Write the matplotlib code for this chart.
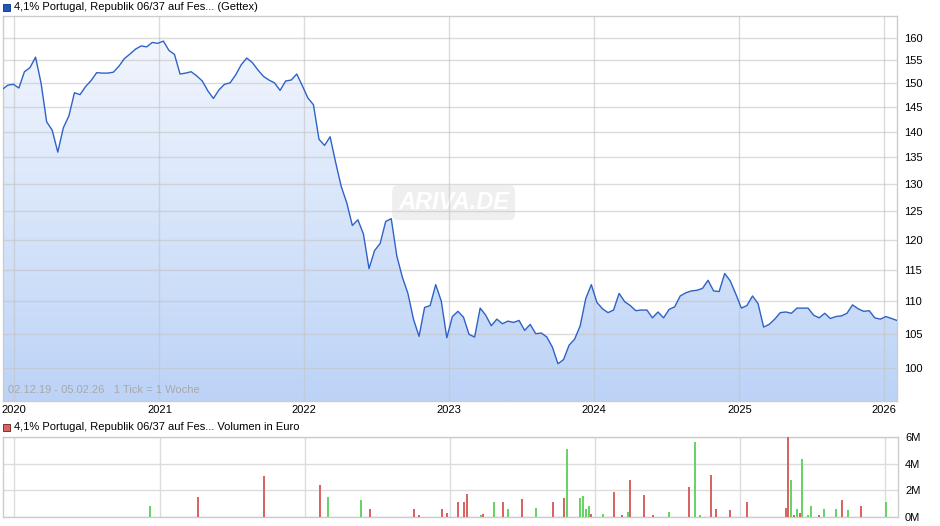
import numpy as np
import pandas as pd
import matplotlib
matplotlib.use('Agg')
import matplotlib.pyplot as plt
import matplotlib.dates as mdates
from matplotlib.colors import LinearSegmentedColormap
from matplotlib.patches import Polygon, Rectangle
from matplotlib.ticker import FixedLocator, FuncFormatter, NullLocator

plt.rcParams['font.family'] = ['Liberation Sans', 'DejaVu Sans']

# price, one reading every two weeks
price_dates = pd.date_range('2019-12-02', periods=162, freq='14D')
price = [148.7, 149.6, 149.8, 149.0, 152.5, 153.4, 155.7, 150.0, 142.0, 140.3,
         136.0, 140.8, 143.2, 148.0, 147.6, 149.3, 150.6, 152.3, 152.2, 152.2,
         152.4, 153.7, 155.4, 156.4, 157.5, 158.2, 158.0, 159.0, 158.8, 159.3,
         157.2, 156.3, 152.0, 152.2, 152.5, 151.6, 150.5, 148.4, 146.8, 148.6,
         149.8, 150.1, 151.8, 154.0, 155.5, 154.5, 152.9, 151.5, 150.7, 150.1,
         148.5, 150.5, 150.7, 152.0, 149.5, 146.9, 145.5, 138.5, 137.3, 139.0,
         134.0, 129.5, 126.5, 122.5, 123.5, 121.0, 115.2, 118.2, 119.4, 123.2,
         123.7, 117.3, 113.8, 111.2, 107.2, 104.6, 109.0, 109.3, 112.6, 110.0,
         104.4, 107.6, 108.4, 107.5, 104.9, 104.5, 108.9, 107.8, 106.2, 107.2,
         106.5, 106.9, 106.7, 107.0, 105.5, 106.4, 105.0, 105.1, 104.5, 103.0,
         100.6, 101.2, 103.3, 104.2, 106.2, 110.4, 112.6, 109.8, 108.8, 108.2,
         108.6, 111.2, 109.9, 109.3, 108.5, 108.6, 108.6, 107.4, 108.3, 107.4,
         108.7, 109.1, 110.8, 111.3, 111.6, 111.7, 112.0, 113.3, 111.6, 111.5,
         114.4, 113.2, 111.1, 108.9, 109.3, 110.8, 109.6, 106.0, 106.4, 107.2,
         108.2, 108.3, 108.1, 108.9, 108.9, 108.9, 107.8, 107.4, 108.1, 107.3,
         107.6, 107.7, 108.1, 109.4, 108.8, 108.4, 108.5, 107.4, 107.2, 107.6,
         107.3, 107.0]

# volume in million euro, True = up (green)
vol_dates = pd.to_datetime([
    '2020-01-23', '2020-03-19', '2020-12-07', '2021-04-08', '2021-09-21',
    '2022-02-09', '2022-03-01', '2022-05-23', '2022-06-15', '2022-08-02',
    '2022-10-04', '2022-10-16', '2022-12-13', '2022-12-26', '2023-01-23',
    '2023-02-07', '2023-02-14', '2023-03-21', '2023-03-26', '2023-04-22',
    '2023-05-15', '2023-05-28', '2023-07-03', '2023-08-07', '2023-09-19',
    '2023-10-16', '2023-10-23', '2023-11-26', '2023-12-03', '2023-12-11',
    '2023-12-18', '2023-12-23', '2024-01-22', '2024-02-19', '2024-03-10',
    '2024-03-25', '2024-03-30', '2024-05-05', '2024-05-27', '2024-07-07',
    '2024-08-26', '2024-09-08', '2024-09-23', '2024-10-20', '2024-11-02',
    '2024-12-07', '2025-01-19', '2025-04-27', '2025-05-02', '2025-05-10',
    '2025-05-17', '2025-05-25', '2025-06-01', '2025-06-06', '2025-06-21',
    '2025-06-29', '2025-07-19', '2025-08-01', '2025-08-31', '2025-09-13',
    '2025-09-28', '2025-11-02', '2026-01-04'])
vol_mio = [0.03, 0.03, 0.83, 1.5, 3.08,
           2.4, 1.5, 1.28, 0.6, 0.03,
           0.6, 0.15, 0.6, 0.3, 1.1,
           1.1, 1.7, 0.15, 0.2, 1.1,
           1.1, 0.6, 1.35, 0.65, 1.1,
           1.4, 5.1, 1.4, 1.55, 0.6,
           0.8, 0.2, 0.25, 1.9, 0.12,
           0.35, 2.8, 1.65, 0.12, 0.35,
           2.25, 5.6, 0.12, 3.15, 0.6,
           0.5, 1.1, 0.7, 6.0, 2.8,
           0.12, 0.6, 0.3, 4.35, 0.12,
           0.85, 0.12, 0.6, 0.6, 1.25,
           0.5, 0.85, 1.1]
vol_up = [True, False, True, False, False,
          False, True, True, False, True,
          False, False, False, False, False,
          False, False, True, False, True,
          False, True, False, True, False,
          False, True, True, True, True,
          True, False, True, False, False,
          True, False, False, False, True,
          False, True, True, False, False,
          False, False, False, False, True,
          False, True, False, True, True,
          True, False, True, True, False,
          True, False, True]

line_c = '#2f62c8'
grid_c = '#dcdcdc'
green = '#66d466'
red = '#d96464'
x_lo = pd.Timestamp('2019-12-04')
x_hi = pd.Timestamp('2026-02-02')
y_lo, y_hi = 95.4, 165.1

fig = plt.figure(figsize=(9.4, 5.26), dpi=100)
ax = fig.add_axes([3/940, 1-401/526, 894/940, 385/526])
axv = fig.add_axes([3/940, 1-517/526, 895/940, 80/526])

# price panel
ax.set_yscale('log')
ax.set_autoscale_on(False)
ax.set_xlim(x_lo, x_hi)
ax.set_ylim(y_lo, y_hi)

xn = mdates.date2num(price_dates)
verts = list(zip(xn, price)) + [(xn[-1], 90), (xn[0], 90)]
clip = Polygon(verts, closed=True, transform=ax.transData, fc='none', ec='none')
ax.add_patch(clip)
cmap = LinearSegmentedColormap.from_list('fill', ['#bcd3f7', '#f5f8fe'])
grad = np.linspace(0, 1, 256).reshape(-1, 1)
im = ax.imshow(grad, extent=[0, 1, 0, 1], transform=ax.transAxes, origin='lower',
               cmap=cmap, aspect='auto', zorder=1, interpolation='bilinear')
im.set_clip_path(clip)
ax.set_xlim(x_lo, x_hi)
ax.set_ylim(y_lo, y_hi)

ax.plot(price_dates, price, color=line_c, lw=1.0, zorder=3)

ax.yaxis.set_major_locator(FixedLocator(list(range(100, 161, 5))))
ax.yaxis.set_minor_locator(NullLocator())
ax.yaxis.set_major_formatter(FuncFormatter(lambda v, p: f'{v:.0f}'))
ax.yaxis.tick_right()
ax.xaxis.set_major_locator(mdates.YearLocator())
ax.xaxis.set_major_formatter(mdates.DateFormatter('%Y'))
ax.tick_params(length=0, labelsize=8, colors='black')
ax.tick_params(axis='y', pad=5)
ax.tick_params(axis='x', pad=3)
ax.grid(True, color='#c4c4c4', lw=1.0, alpha=0.6, zorder=2)
ax.set_axisbelow(False)
for s in ax.spines.values():
    s.set_color('#cccccc')
    s.set_linewidth(1.0)

ax.text(0.006, 0.015, '02.12.19 - 05.02.26   1 Tick = 1 Woche', transform=ax.transAxes,
        fontsize=8, color='#a8a8a8', ha='left', va='bottom', zorder=4)
ax.text(0.504, 0.515, 'ARIVA.DE', transform=ax.transAxes, fontsize=17,
        fontstyle='italic', fontweight='bold', color='white', ha='center', va='center',
        zorder=2.2, bbox=dict(boxstyle='round,pad=0.25', fc='#e2e2e2', ec='none', alpha=0.55))

# volume panel
colors = [green if u else red for u in vol_up]
axv.bar(vol_dates, vol_mio, width=5, color=colors, zorder=3)
axv.set_xlim(x_lo, x_hi)
axv.set_ylim(0, 6)
axv.yaxis.set_major_locator(FixedLocator([0, 2, 4, 6]))
axv.yaxis.set_major_formatter(FuncFormatter(lambda v, p: f'{v:.0f}M'))
axv.yaxis.tick_right()
axv.xaxis.set_major_locator(mdates.YearLocator())
axv.tick_params(length=0, labelsize=8, colors='black', pad=5)
axv.tick_params(axis='x', labelbottom=False)
axv.grid(True, color=grid_c, lw=1.0, zorder=0)
axv.set_axisbelow(True)
for s in axv.spines.values():
    s.set_color('#cccccc')
    s.set_linewidth(1.0)

# titles with coloured squares
fig.patches.append(Rectangle((3/940, 1-11/526), 7/940, 7/526, transform=fig.transFigure,
                             fc='#1f55bf', ec='#0c2f7a', lw=0.6, figure=fig))
fig.text(14/940, 1-7.5/526, '4,1% Portugal, Republik 06/37 auf Fes... (Gettex)',
         fontsize=8, va='center', ha='left')
fig.patches.append(Rectangle((3/940, 1-431/526), 7/940, 7/526, transform=fig.transFigure,
                             fc='#d96464', ec='#6a1f1f', lw=0.6, figure=fig))
fig.text(14/940, 1-427.5/526, '4,1% Portugal, Republik 06/37 auf Fes... Volumen in Euro',
         fontsize=8, va='center', ha='left')

fig.savefig('out.png', dpi=100)
